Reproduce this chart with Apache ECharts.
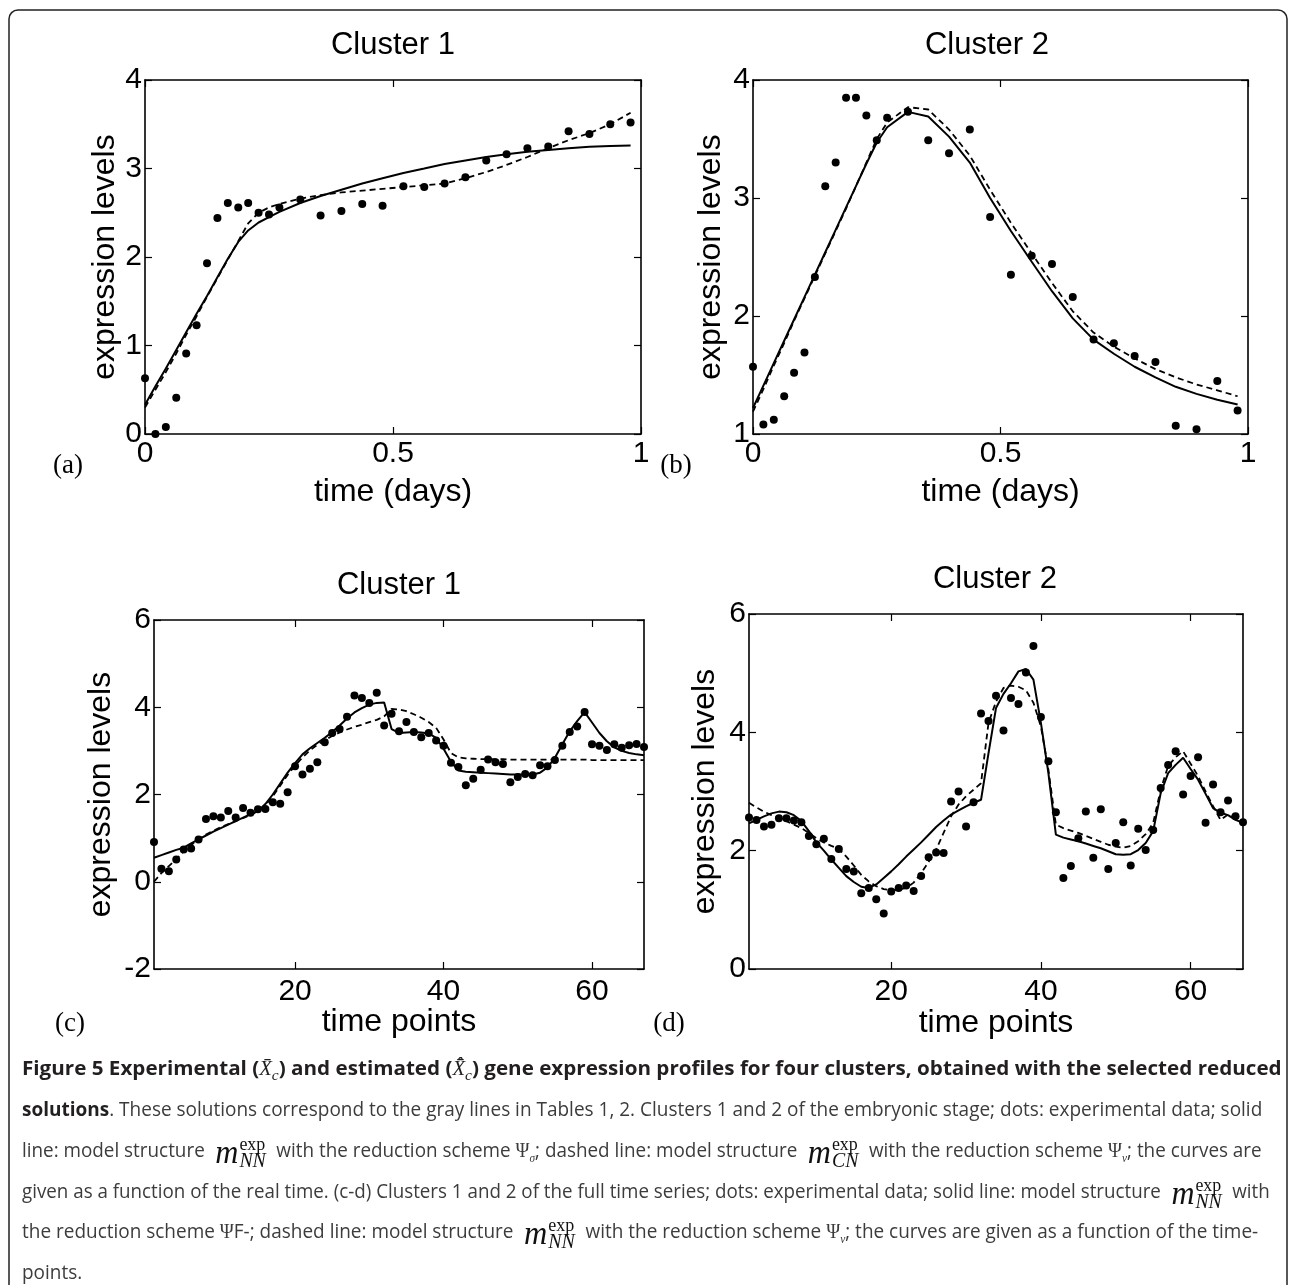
<!DOCTYPE html>
<html>
<head>
<meta charset="utf-8">
<script src="https://cdn.jsdelivr.net/npm/echarts@6/dist/echarts.min.js"></script>
<style>
html, body { margin: 0; padding: 0; background: #fff; }
#wrap { position: relative; width: 1293px; height: 1285px; overflow: hidden; }
#chart { position: absolute; left: 0; top: 0; width: 1293px; height: 1285px; }
.ln { position: absolute; left: 22px; white-space: nowrap; font-family: "Open Sans", sans-serif;
      font-size: 20px; color: #3c3c3c; line-height: 30px; height: 30px; transform-origin: 0 50%; }
.ln.b { font-weight: bold; color: #231f20; }
.ln b { color: #231f20; }
.mi { font-family: "Liberation Serif", serif; font-style: italic; font-weight: normal; }
.mx sub { font-size: 15px; }
.mm { display: inline-block; vertical-align: middle; margin: 0 6px; }
.mm .big { font-size: 34px; font-family: "Liberation Serif", serif; font-style: italic; vertical-align: middle; color: #111; }
.mm .st { display: inline-flex; flex-direction: column; vertical-align: middle; font-family: "Liberation Serif", serif;
          font-size: 19px; line-height: 16px; margin-left: 1px; color: #111; }
.mm .st .sb { font-style: italic; font-size: 21px; }
.psi { font-family: "Liberation Serif", serif; }
.psi sub { font-size: 12px; font-style: italic; }
</style>
</head>
<body>
<div id="wrap">
  <div id="chart"></div>
  <div class="ln b" data-w="1260" style="top:1053px">Figure 5 Experimental (<span class="mx"><span class="mi">X&#772;</span><sub class="mi">c</sub></span>) and estimated (<span class="mx"><span class="mi">X&#772;&#770;</span><sub class="mi">c</sub></span>) gene expression profiles for four clusters, obtained with the selected reduced</div>
  <div class="ln" data-w="1240" style="top:1094px"><b>solutions</b>. These solutions correspond to the gray lines in Tables 1, 2. Clusters 1 and 2 of the embryonic stage; dots: experimental data; solid</div>
  <div class="ln" data-w="1240" style="top:1135px">line: model structure <span class="mm"><span class="big">m</span><span class="st"><span>exp</span><span class="sb">NN</span></span></span> with the reduction scheme <span class="psi">&Psi;<sub>&sigma;</sub></span>; dashed line: model structure <span class="mm"><span class="big">m</span><span class="st"><span>exp</span><span class="sb">CN</span></span></span> with the reduction scheme <span class="psi">&Psi;<sub>v</sub></span>; the curves are</div>
  <div class="ln" data-w="1248" style="top:1176px">given as a function of the real time. (c-d) Clusters 1 and 2 of the full time series; dots: experimental data; solid line: model structure <span class="mm"><span class="big">m</span><span class="st"><span>exp</span><span class="sb">NN</span></span></span> with</div>
  <div class="ln" data-w="1236" id="ln5" style="top:1216px">the reduction scheme <span class="psi">&Psi;</span>F-; dashed line: model structure <span class="mm"><span class="big">m</span><span class="st"><span>exp</span><span class="sb">NN</span></span></span> with the reduction scheme <span class="psi">&Psi;<sub>v</sub></span>; the curves are given as a function of the time-</div>
  <div class="ln" id="ln6" style="top:1257px">points.</div>
</div>
<script>
// embryonic stage: real time (days)
const timeDays = [0, 0.021, 0.042, 0.063, 0.083, 0.104, 0.125, 0.146, 0.167, 0.188, 0.208,
    0.229, 0.25, 0.271, 0.313, 0.354, 0.396, 0.438, 0.479, 0.521, 0.563, 0.604, 0.646,
    0.688, 0.729, 0.771, 0.813, 0.854, 0.896, 0.938, 0.979];
// full series: time points 1..67
const timePoints = Array.from({ length: 67 }, (_, i) => i + 1);

// (a) Cluster 1, embryonic
const aDots = [0.63, 0.0, 0.08, 0.41, 0.91, 1.23, 1.93, 2.44, 2.61, 2.56, 2.61, 2.50, 2.48, 2.56,
    2.65, 2.47, 2.52, 2.60, 2.58, 2.80, 2.79, 2.83, 2.90, 3.09, 3.16, 3.23, 3.25, 3.42, 3.39, 3.50, 3.52];
const aSolid = [0.33, 0.54, 0.74, 0.95, 1.15, 1.36, 1.56, 1.77, 1.98, 2.17, 2.30, 2.39, 2.45, 2.51,
    2.61, 2.69, 2.76, 2.83, 2.89, 2.95, 3.00, 3.05, 3.09, 3.13, 3.16, 3.19, 3.21, 3.23, 3.245, 3.255, 3.26];
const aDashed = [0.30, 0.50, 0.70, 0.91, 1.12, 1.33, 1.55, 1.76, 1.97, 2.18, 2.38, 2.50, 2.56, 2.60,
    2.66, 2.70, 2.73, 2.75, 2.77, 2.79, 2.81, 2.83, 2.89, 2.96, 3.04, 3.13, 3.23, 3.32, 3.40, 3.50, 3.63];

// (b) Cluster 2, embryonic
const bDots = [1.57, 1.08, 1.12, 1.32, 1.52, 1.69, 2.33, 3.10, 3.30, 3.85, 3.85, 3.70, 3.49, 3.68,
    3.73, 3.49, 3.38, 3.58, 2.84, 2.35, 2.51, 2.44, 2.16, 1.80, 1.77, 1.66, 1.61, 1.07, 1.04, 1.45, 1.20];
const bSolid = [1.22, 1.41, 1.60, 1.79, 1.97, 2.16, 2.35, 2.54, 2.73, 2.92, 3.10, 3.29, 3.47, 3.60,
    3.73, 3.69, 3.52, 3.30, 3.00, 2.72, 2.46, 2.21, 1.98, 1.80, 1.68, 1.57, 1.48, 1.40, 1.34, 1.29, 1.25];
const bDashed = [1.19, 1.38, 1.58, 1.77, 1.96, 2.15, 2.34, 2.53, 2.72, 2.91, 3.10, 3.30, 3.50, 3.64,
    3.77, 3.75, 3.58, 3.36, 3.07, 2.79, 2.53, 2.28, 2.04, 1.86, 1.74, 1.64, 1.55, 1.48, 1.42, 1.37, 1.32];

// (c) Cluster 1, full series
const cDots = [0.91, 0.30, 0.24, 0.51, 0.74, 0.76, 0.97, 1.44, 1.50, 1.47, 1.62, 1.47, 1.69, 1.58,
    1.66, 1.67, 1.82, 1.79, 2.05, 2.65, 2.46, 2.59, 2.74, 3.20, 3.41, 3.50, 3.78, 4.27, 4.21, 4.10,
    4.33, 3.58, 3.85, 3.45, 3.66, 3.43, 3.31, 3.41, 3.24, 3.12, 2.73, 2.63, 2.21, 2.36, 2.57, 2.80,
    2.74, 2.70, 2.28, 2.40, 2.47, 2.44, 2.67, 2.65, 2.79, 3.12, 3.43, 3.56, 3.89, 3.15, 3.12, 3.02,
    3.15, 3.07, 3.13, 3.16, 3.09];
const cSolid = [0.55, 0.61, 0.67, 0.73, 0.78, 0.88, 0.97, 1.06, 1.15, 1.23, 1.31, 1.39, 1.47, 1.55,
    1.62, 1.78, 2.00, 2.25, 2.50, 2.72, 2.92, 3.06, 3.18, 3.30, 3.43, 3.58, 3.74, 3.88, 3.98, 4.06,
    4.10, 4.11, 3.50, 3.41, 3.42, 3.43, 3.42, 3.40, 3.30, 3.05, 2.75, 2.55, 2.52, 2.51, 2.50, 2.49,
    2.48, 2.47, 2.46, 2.46, 2.46, 2.46, 2.50, 2.62, 2.84, 3.15, 3.45, 3.68, 3.89, 3.65, 3.41, 3.22,
    3.08, 3.00, 2.95, 2.92, 2.90];
const cDashed = [0.0, 0.20, 0.36, 0.52, 0.70, 0.84, 0.98, 1.08, 1.17, 1.25, 1.32, 1.39, 1.46, 1.53,
    1.62, 1.75, 1.96, 2.20, 2.45, 2.66, 2.85, 3.01, 3.14, 3.25, 3.34, 3.42, 3.49, 3.55, 3.60, 3.66,
    3.71, 3.79, 3.96, 3.95, 3.91, 3.84, 3.76, 3.66, 3.53, 3.26, 2.95, 2.85, 2.83, 2.82, 2.81, 2.81,
    2.81, 2.81, 2.80, 2.80, 2.80, 2.80, 2.80, 2.80, 2.80, 2.80, 2.80, 2.80, 2.80, 2.79, 2.79, 2.79,
    2.79, 2.79, 2.79, 2.79, 2.79];

// (d) Cluster 2, full series
const dDots = [2.56, 2.52, 2.41, 2.44, 2.55, 2.55, 2.51, 2.48, 2.25, 2.11, 2.20, 1.86, 2.03, 1.69,
    1.65, 1.28, 1.37, 1.18, 0.94, 1.31, 1.37, 1.41, 1.32, 1.57, 1.89, 1.97, 1.96, 2.83, 3.00, 2.41,
    2.82, 4.32, 4.19, 4.62, 4.03, 4.58, 4.48, 5.01, 5.46, 4.26, 3.51, 2.65, 1.54, 1.74, 2.21, 2.66,
    1.88, 2.70, 1.69, 2.13, 2.48, 1.75, 2.37, 2.01, 2.35, 3.06, 3.45, 3.68, 2.95, 3.26, 3.58, 2.47,
    3.12, 2.65, 2.85, 2.58, 2.48];
const dSolid = [2.46, 2.52, 2.58, 2.63, 2.66, 2.65, 2.60, 2.50, 2.33, 2.14, 2.00, 1.85, 1.71, 1.57,
    1.47, 1.39, 1.37, 1.43, 1.54, 1.65, 1.77, 1.90, 2.02, 2.14, 2.27, 2.40, 2.51, 2.61, 2.68, 2.75,
    2.81, 2.86, 3.65, 4.41, 4.65, 4.83, 5.03, 5.07, 4.89, 4.16, 3.31, 2.27, 2.22, 2.19, 2.16, 2.12,
    2.08, 2.04, 1.99, 1.94, 1.93, 1.94, 2.01, 2.13, 2.33, 2.97, 3.31, 3.45, 3.57, 3.38, 3.20, 2.96,
    2.72, 2.64, 2.60, 2.52, 2.47];
const dDashed = [2.81, 2.73, 2.66, 2.60, 2.55, 2.50, 2.44, 2.38, 2.30, 2.21, 2.14, 2.08, 2.03, 1.90,
    1.75, 1.59, 1.48, 1.40, 1.35, 1.33, 1.34, 1.37, 1.46, 1.62, 1.81, 2.02, 2.30, 2.58, 2.78, 2.92,
    3.03, 3.14, 4.16, 4.52, 4.75, 4.79, 4.77, 4.71, 4.50, 4.10, 3.37, 2.44, 2.38, 2.34, 2.30, 2.25,
    2.20, 2.15, 2.10, 2.07, 2.05, 2.08, 2.16, 2.28, 2.47, 3.03, 3.43, 3.58, 3.68, 3.47, 3.26, 3.00,
    2.75, 2.52, 2.61, 2.56, 2.46];

const FONT = '"Liberation Sans", Arial, sans-serif';
const zip = (xs, ys) => xs.map((x, i) => [x, ys[i]]);

const panels = [
    { x: timeDays, dots: aDots, solid: aSolid, dashed: aDashed, xmin: 0, xmax: 1, xint: 0.5,
      ymin: 0, ymax: 4, yint: 1, xName: 'time (days)', xGap: 42, yGap: 24, labMargin: 5 },
    { x: timeDays, dots: bDots, solid: bSolid, dashed: bDashed, xmin: 0, xmax: 1, xint: 0.5,
      ymin: 1, ymax: 4, yint: 1, xName: 'time (days)', xGap: 42, yGap: 26, labMargin: 5 },
    { x: timePoints, dots: cDots, solid: cSolid, dashed: cDashed, xmin: 1, xmax: 67, ticks: [20, 40, 60],
      ymin: -2, ymax: 6, yint: 2, xName: 'time points', xGap: 37, yGap: 37, labMargin: 8 },
    { x: timePoints, dots: dDots, solid: dSolid, dashed: dDashed, xmin: 1, xmax: 67, ticks: [20, 40, 60],
      ymin: 0, ymax: 6, yint: 2, xName: 'time points', xGap: 38, yGap: 28, labMargin: 8 }
];

const grids = [
    { left: 145, top: 80, width: 496, height: 354 },
    { left: 753, top: 80, width: 495, height: 354 },
    { left: 154, top: 620, width: 490, height: 349 },
    { left: 749, top: 614, width: 494, height: 355 }
];

const lineStyle = { color: '#000', width: 1.6 };
const tick = { inside: true, length: 7, lineStyle: { color: '#000', width: 1.2 } };

const xAxis = [], yAxis = [], series = [];
panels.forEach((p, i) => {
    const xBase = { gridIndex: i, type: 'value', min: p.xmin, max: p.xmax, splitLine: { show: false },
        axisLine: { onZero: false, lineStyle: lineStyle } };
    if (p.ticks) {
        xBase.axisTick = Object.assign({ customValues: p.ticks }, tick);
        xBase.axisLabel = { customValues: p.ticks };
    } else {
        xBase.interval = p.xint;
        xBase.axisTick = tick;
        xBase.axisLabel = {};
    }
    xAxis.push(Object.assign({}, xBase, {
        position: 'bottom',
        axisLabel: Object.assign({}, xBase.axisLabel, { color: '#000', fontFamily: FONT, fontSize: 30, margin: p.labMargin }),
        name: p.xName, nameLocation: 'middle', nameGap: p.xGap, nameMoveOverlap: false,
        nameTextStyle: { color: '#000', fontFamily: FONT, fontSize: 32 }
    }));
    xAxis.push(Object.assign({}, xBase, {
        position: 'top',
        axisLabel: Object.assign({}, xBase.axisLabel, { show: false })
    }));
    const yBase = { gridIndex: i, type: 'value', min: p.ymin, max: p.ymax, interval: p.yint,
        splitLine: { show: false }, axisLine: { onZero: false, lineStyle: lineStyle }, axisTick: tick };
    yAxis.push(Object.assign({}, yBase, {
        position: 'left',
        axisLabel: { color: '#000', fontFamily: FONT, fontSize: 30, margin: 3 },
        name: 'expression levels', nameLocation: 'middle', nameGap: p.yGap, nameMoveOverlap: false,
        nameTextStyle: { color: '#000', fontFamily: FONT, fontSize: 32 }
    }));
    yAxis.push(Object.assign({}, yBase, { position: 'right', axisLabel: { show: false } }));

    series.push({
        type: 'line', xAxisIndex: 2 * i, yAxisIndex: 2 * i, data: zip(p.x, p.solid),
        showSymbol: false, lineStyle: { color: '#000', width: 2 }, silent: true, z: 3
    });
    series.push({
        type: 'line', xAxisIndex: 2 * i, yAxisIndex: 2 * i, data: zip(p.x, p.dashed),
        showSymbol: false, lineStyle: { color: '#000', width: 1.8, type: [6, 4] }, silent: true, z: 3
    });
    series.push({
        type: 'scatter', xAxisIndex: 2 * i, yAxisIndex: 2 * i, data: zip(p.x, p.dots),
        symbol: 'circle', symbolSize: 8, itemStyle: { color: '#000', opacity: 1 }, silent: true, z: 4
    });
});

const titles = [['Cluster 1', 393, 45], ['Cluster 2', 987, 45], ['Cluster 1', 399, 585], ['Cluster 2', 995, 579]];
const letters = [['(a)', 68, 466], ['(b)', 676, 466], ['(c)', 70, 1024], ['(d)', 669, 1024]];

const graphic = [{
    type: 'rect', shape: { x: 9, y: 10, width: 1278, height: 1300, r: 9 },
    style: { fill: 'none', stroke: '#222', lineWidth: 1.5 }, silent: true
}];
titles.forEach(t => graphic.push({
    type: 'text', x: t[1], y: t[2], silent: true,
    style: { text: t[0], fill: '#000', font: '31px ' + FONT, textAlign: 'center', textVerticalAlign: 'middle' }
}));
letters.forEach(t => graphic.push({
    type: 'text', x: t[1], y: t[2], silent: true,
    style: { text: t[0], fill: '#000', font: '27px "Liberation Serif", serif', textAlign: 'center', textVerticalAlign: 'middle' }
}));

const chart = echarts.init(document.getElementById('chart'), null, { renderer: 'canvas' });
chart.setOption({
    animation: false,
    backgroundColor: '#fff',
    grid: grids,
    xAxis: xAxis,
    yAxis: yAxis,
    series: series,
    graphic: graphic
});

// fit caption lines to the widths of the original layout
function fitCaption() {
    let s5 = 1;
    document.querySelectorAll('.ln').forEach(el => {
        el.style.transform = '';
        const target = Number(el.dataset.w);
        if (target) {
            const s = target / el.scrollWidth;
            el.style.transform = 'scaleX(' + s + ')';
            if (el.id === 'ln5') s5 = s;
        }
    });
    document.getElementById('ln6').style.transform = 'scaleX(' + s5 + ')';
}
fitCaption();
if (document.fonts && document.fonts.ready) document.fonts.ready.then(fitCaption);
</script>
</body>
</html>
